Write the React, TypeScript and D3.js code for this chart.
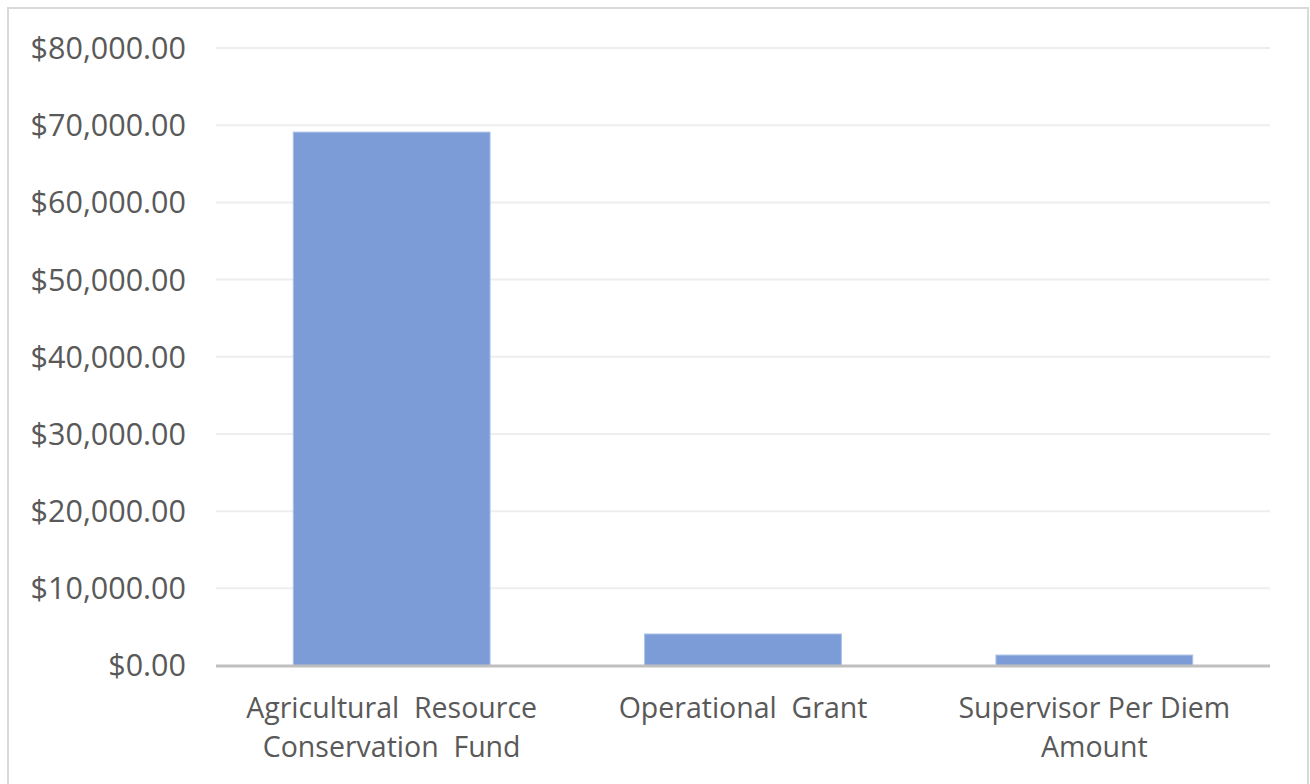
import React from "react";
import * as d3 from "d3";

const categories = ["Agricultural  Resource|Conservation  Fund", "Operational  Grant", "Supervisor Per Diem|Amount"];
const values = [69100, 4080, 1350];
const yTicks = [0, 10000, 20000, 30000, 40000, 50000, 60000, 70000, 80000];

const W = 1310;
const H = 784;

export default function App() {
  const x = d3.scaleBand<string>().domain(categories).range([216, 1270]).paddingInner(0.44).paddingOuter(0.22);
  const y = d3.scaleLinear().domain([0, 80000]).range([665.5, 48]);
  const fmt = (v: number) => "$" + d3.format(",.2f")(v);
  const font = "'Open Sans', 'Noto Sans', sans-serif";
  return (
    <div style={{ position: "absolute", left: 0, top: 0 }}>
      <svg width={W} height={H} style={{ display: "block" }}>
        <rect x={0} y={0} width={W} height={H} fill="#fff" />
        <rect x={8} y={8} width={W - 10} height={H} fill="none" stroke="#d9d9d9" strokeWidth={2} />
        {yTicks.map((t) => (
          <g key={t}>
            {t > 0 && <line x1={216} x2={1270} y1={y(t)} y2={y(t)} stroke="#eeeeee" strokeWidth={2} />}
            <text x={186} y={y(t)} dy="0.36em" textAnchor="end" fontFamily={font} fontSize={30.5} fill="#595959">
              {fmt(t)}
            </text>
          </g>
        ))}
        {categories.map((c, i) => (
          <rect key={c} x={x(c)} y={y(values[i])} width={x.bandwidth()} height={y(0) - y(values[i])} fill="#7b9cd6" stroke="#a9bfe6" strokeWidth={1} />
        ))}
        <line x1={216} x2={1270} y1={y(0) + 0.5} y2={y(0) + 0.5} stroke="#bfbfbf" strokeWidth={3} />
        {categories.map((c) => {
          const lines = c.split("|");
          const cx = (x(c) as number) + x.bandwidth() / 2;
          return (
            <text key={c} textAnchor="middle" fontFamily={font} fontSize={28.5} fill="#595959" style={{ whiteSpace: "pre" }}>
              {lines.map((l, j) => (
                <tspan key={j} x={cx} y={718 + j * 39}>
                  {l}
                </tspan>
              ))}
            </text>
          );
        })}
      </svg>
    </div>
  );
}
